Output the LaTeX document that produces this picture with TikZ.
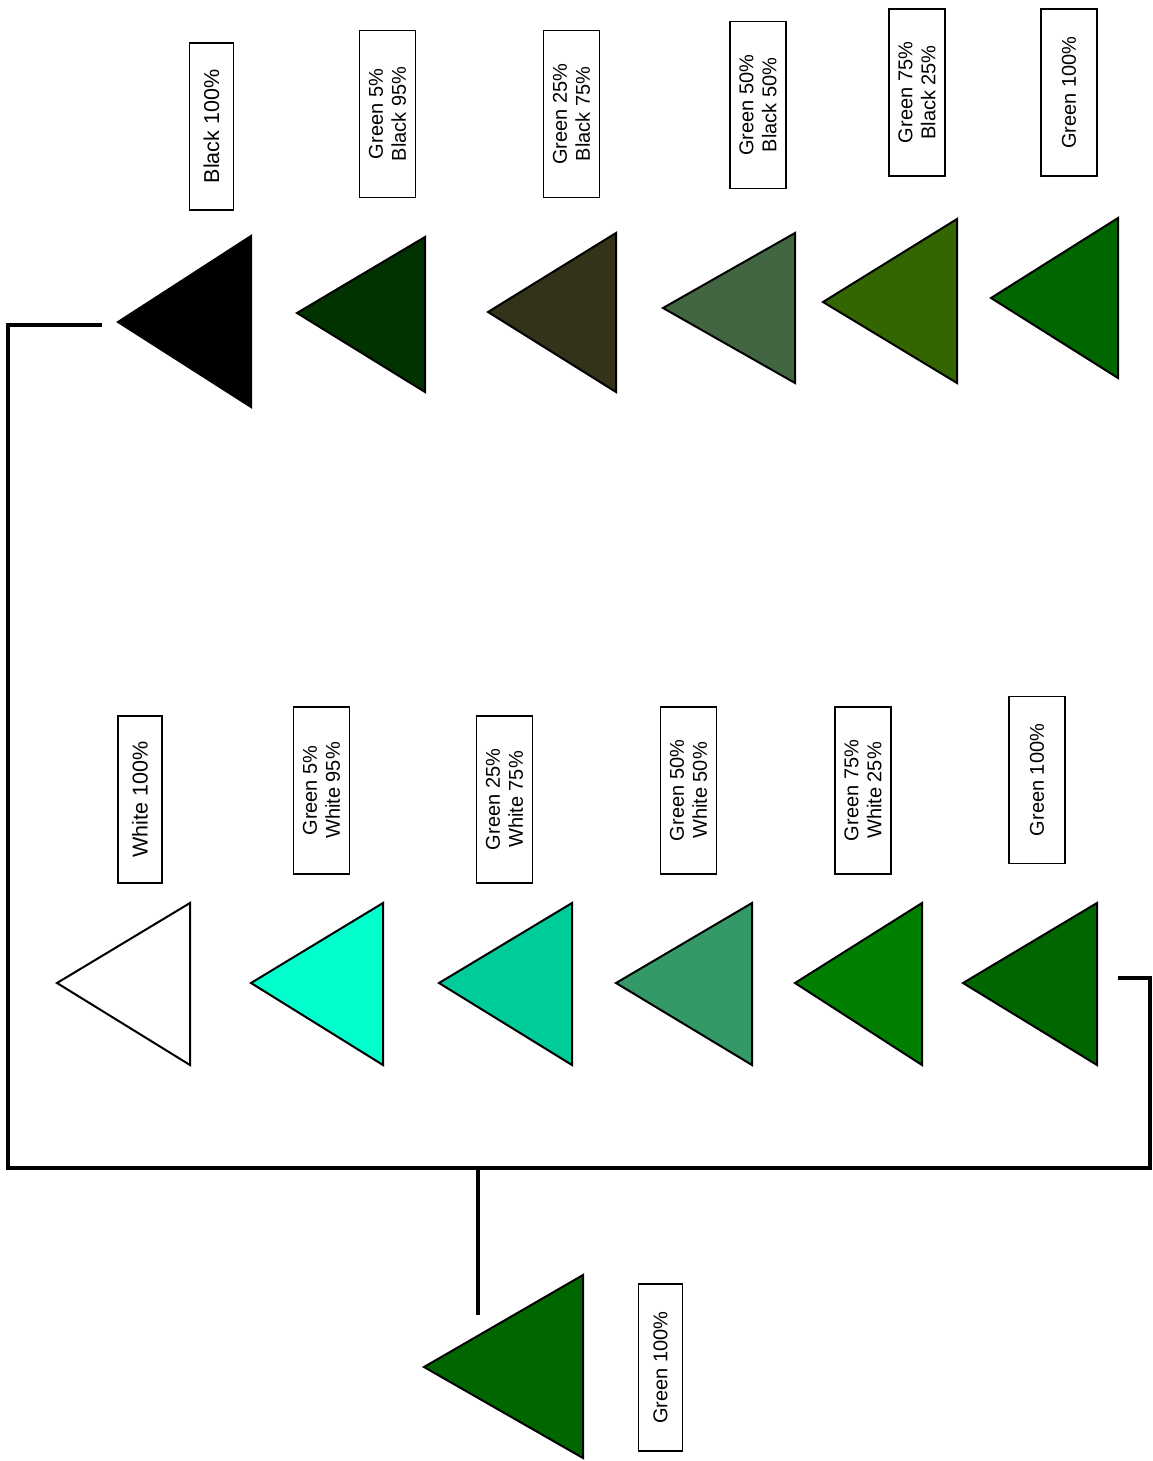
\documentclass[tikz,border=0pt]{standalone}
\usepackage{fontspec}
\setmainfont{Liberation Sans}
\definecolor{gk05}{HTML}{003300}
\definecolor{gk25}{HTML}{343219}
\definecolor{gk50}{HTML}{416641}
\definecolor{gk75}{HTML}{336600}
\definecolor{g100}{HTML}{006600}
\definecolor{gw05}{HTML}{00FFCC}
\definecolor{gw25}{HTML}{00CC99}
\definecolor{gw50}{HTML}{339966}
\definecolor{gw75}{HTML}{007F00}

\begin{document}
\begin{tikzpicture}[x=1pt,y=-1pt,
	tri/.style={draw=black, line width=2pt, line join=miter},
	lbl/.style={draw=black, line width=1.6pt, fill=white, rotate=90, align=center,
		minimum width=167pt, minimum height=44pt, inner sep=2pt,
		font=\fontsize{20}{23}\selectfont},
	big/.style={font=\fontsize{21.5}{24}\selectfont},
	wide/.style={minimum height=56pt},
	wire/.style={line width=4pt, line join=miter}]
	\useasboundingbox (0,0) rectangle (1152,1461);
	\fill[white] (0,0) rectangle (1152,1461);
	%% ========================================================
	%% top row: green with black
	\draw[tri, fill=black] (118,322) -- (251,236) -- (251,407) -- cycle;
	\draw[tri, fill=gk05]  (297,313) -- (425,237) -- (425,392) -- cycle;
	\draw[tri, fill=gk25]  (488,312) -- (616,233) -- (616,392) -- cycle;
	\draw[tri, fill=gk50]  (663,308) -- (795,233) -- (795,383) -- cycle;
	\draw[tri, fill=gk75]  (823,302) -- (957,219) -- (957,383) -- cycle;
	\draw[tri, fill=g100]  (991,298) -- (1118,218) -- (1118,378) -- cycle;

	\node[lbl, big]  (k100) at (211.5,126.5) {Black 100\%};
	\node[lbl, wide] (gk05) at (387.5,114) {Green 5\%\\Black 95\%};
	\node[lbl, wide] (gk25) at (571.5,114) {Green 25\%\\Black 75\%};
	\node[lbl, wide] (gk50) at (758,105)   {Green 50\%\\Black 50\%};
	\node[lbl, wide] (gk75) at (917,92.5)  {Green 75\%\\Black 25\%};
	\node[lbl, wide] (gkg)  at (1069,92.5) {Green 100\%};
	%% ========================================================
	%% bottom row: green with white
	\draw[tri, fill=white] (57,983)  -- (190,903)  -- (190,1065)  -- cycle;
	\draw[tri, fill=gw05]  (251,983) -- (383,903)  -- (383,1065)  -- cycle;
	\draw[tri, fill=gw25]  (439,983) -- (572,903)  -- (572,1065)  -- cycle;
	\draw[tri, fill=gw50]  (616,983) -- (752,903)  -- (752,1065)  -- cycle;
	\draw[tri, fill=gw75]  (795,983) -- (922,903)  -- (922,1065)  -- cycle;
	\draw[tri, fill=g100]  (963,983) -- (1097,903) -- (1097,1065) -- cycle;

	\node[lbl, big]  (w100) at (140,799.5)   {White 100\%};
	\node[lbl, wide] (gw05) at (321.5,790.5) {Green 5\%\\White 95\%};
	\node[lbl, wide] (gw25) at (504.5,799.5) {Green 25\%\\White 75\%};
	\node[lbl, wide] (gw50) at (688.5,790.5) {Green 50\%\\White 50\%};
	\node[lbl, wide] (gw75) at (863,790.5)   {Green 75\%\\White 25\%};
	\node[lbl, wide] (gwg)  at (1037,780)    {Green 100\%};
	%% ========================================================
	%% base colour
	\draw[tri, fill=g100] (424,1367) -- (583,1275) -- (583,1458) -- cycle;
	\node[lbl] (g100) at (660.5,1367.5) {Green 100\%};

	%% wires
	\coordinate (wS) at (1118,978);
	\coordinate (wE) at (102,325);
	\coordinate (wJ) at (478,1168);
	\coordinate (wB) at (478,1315);
	\draw[wire] (wS) -- ++(32,0) |- (8,1168) |- (wE);
	\draw[wire] (wJ) -- (wB);
\end{tikzpicture}
\end{document}
